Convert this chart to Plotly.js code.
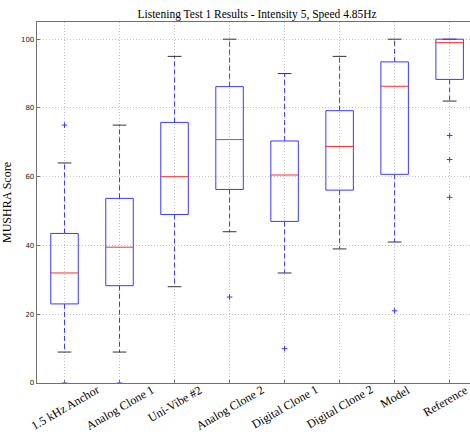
<!DOCTYPE html>
<html><head><meta charset="utf-8">
<script src="https://cdn.plot.ly/plotly-3.0.1.min.js"></script>
<style>html,body{margin:0;padding:0;overflow:hidden;background:#fff}</style>
</head><body><div id="chart" style="width:470px;height:432px"></div>
<script>
const categories = ['1.5 kHz Anchor', 'Analog Clone 1', 'Uni-Vibe #2', 'Analog Clone 2', 'Digital Clone 1', 'Digital Clone 2', 'Model', 'Reference'];
const q1 = [23, 28.3, 49, 56.3, 47, 56.1, 60.7, 88.3];
const median = [32, 39.5, 60, 70.8, 60.5, 68.8, 86.3, 99];
const q3 = [43.5, 53.7, 75.8, 86.2, 70.4, 79.2, 93.4, 100];
const lowerWhisker = [9, 9, 28, 44, 32, 39, 41, 82];
const upperWhisker = [64, 75, 95, 100, 90, 95, 100, 100];
const fliers = [[75, 0], [0], [], [25], [10], [], [21], [72, 65, 54]];

const boxHalf = 0.25, capHalf = 0.125;
const bx = [], by = [], mx = [], my = [], wx = [], wy = [], cx = [], cy = [], fx = [], fy = [];
categories.forEach((c, i) => {
  const x = i + 1;
  bx.push(x - boxHalf, x + boxHalf, x + boxHalf, x - boxHalf, x - boxHalf, null);
  by.push(q1[i], q1[i], q3[i], q3[i], q1[i], null);
  mx.push(x - boxHalf, x + boxHalf, null);
  my.push(median[i], median[i], null);
  wx.push(x, x, null, x, x, null);
  wy.push(q1[i], lowerWhisker[i], null, q3[i], upperWhisker[i], null);
  cx.push(x - capHalf, x + capHalf, null, x - capHalf, x + capHalf, null);
  cy.push(lowerWhisker[i], lowerWhisker[i], null, upperWhisker[i], upperWhisker[i], null);
  fliers[i].forEach(v => { fx.push(x); fy.push(v); });
});

const traces = [
  {x: wx, y: wy, mode: 'lines', line: {color: '#3a3aff', width: 1, dash: '5px,3px'}, hoverinfo: 'skip'},
  {x: cx, y: cy, mode: 'lines', line: {color: '#333333', width: 1}, hoverinfo: 'skip'},
  {x: bx, y: by, mode: 'lines', line: {color: '#3a3aff', width: 1}, hoverinfo: 'skip'},
  {x: mx, y: my, mode: 'lines', line: {color: '#ff3030', width: 1}, hoverinfo: 'skip'},
  {x: fx, y: fy, mode: 'markers', marker: {symbol: 'cross-thin', size: 4, line: {color: '#3a3aff', width: 1}}, hoverinfo: 'skip'}
];

const annotations = categories.map((c, i) => ({
  x: i + 1, y: 0, xref: 'x', yref: 'paper', text: c, showarrow: false,
  textangle: -30, xanchor: 'center', yanchor: 'top', yshift: 3,
  xshift: i === categories.length - 1 ? -4 : 0,
  font: {family: 'Liberation Serif, serif', size: 12, color: '#000'}
}));

const layout = {
  width: 470, height: 432,
  margin: {l: 37, r: 0, t: 22, b: 49},
  showlegend: false,
  paper_bgcolor: '#fff', plot_bgcolor: '#fff',
  title: {text: 'Listening Test 1 Results - Intensity 5, Speed 4.85Hz', x: 0.547, xanchor: 'center', y: 0.968, yanchor: 'middle',
    font: {family: 'Liberation Serif, serif', size: 11.5, color: '#000'}},
  xaxis: {range: [0.5, 8.37], tickvals: categories.map((c, i) => i + 1), showticklabels: false,
    showgrid: true, gridcolor: '#c4c4c4', griddash: '1px,2px', gridwidth: 1, zeroline: false,
    showline: true, linecolor: '#707070', linewidth: 1.3, mirror: true, ticks: 'inside', ticklen: 3, tickcolor: '#707070'},
  yaxis: {range: [0, 105], tickvals: [0, 20, 40, 60, 80, 100],
    showgrid: true, gridcolor: '#c4c4c4', griddash: '1px,2px', gridwidth: 1, zeroline: false,
    showline: true, linecolor: '#707070', linewidth: 1.3, mirror: true, ticks: 'inside', ticklen: 3, tickcolor: '#707070',
    tickfont: {family: 'DejaVu Sans, sans-serif', size: 7, color: '#222'},
    title: {text: 'MUSHRA Score', standoff: 8, font: {family: 'Liberation Serif, serif', size: 12, color: '#000'}}},
  annotations: annotations
};

Plotly.newPlot('chart', traces, layout, {displayModeBar: false, staticPlot: true});
</script>
</body></html>
